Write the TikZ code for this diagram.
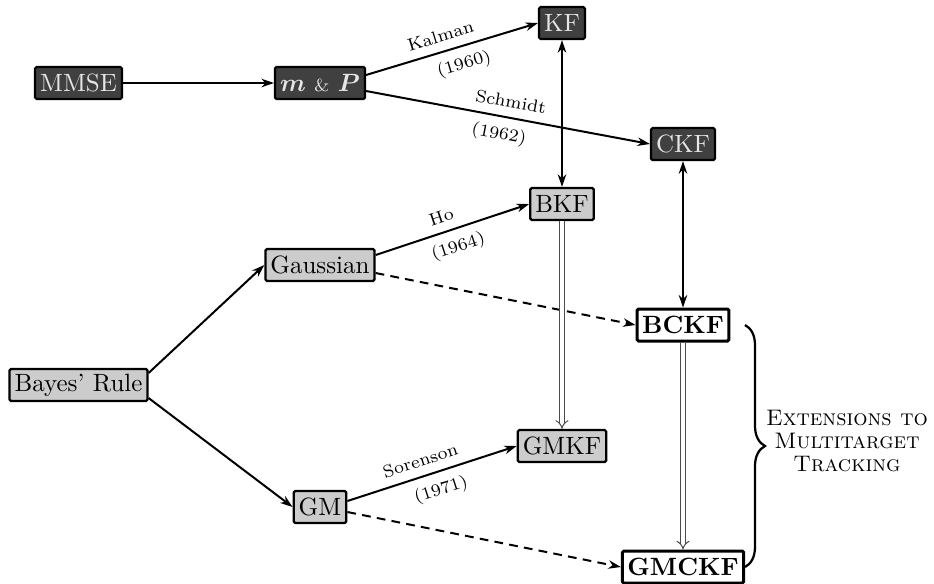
\documentclass[tikz,border=0pt]{standalone}
\usepackage{bm}
\usetikzlibrary{arrows.meta,decorations.pathreplacing}
\definecolor{darkbox}{HTML}{404040}
\definecolor{lightbox}{HTML}{CCCCCC}
\definecolor{boxtext}{HTML}{E6E6E6}
\begin{document}
\begin{tikzpicture}[x=0.4pt,y=-0.4pt,
  base/.style={draw=black, rectangle, rounded corners=0.6pt, minimum height=12.8pt, inner xsep=2pt, inner ysep=1.5pt, line width=0.9pt},
  darknode/.style={base, fill=darkbox, text=boxtext},
  lightnode/.style={base, fill=lightbox},
  whitenode/.style={base, fill=white, line width=1.2pt, font=\bfseries},
  arr/.style={line width=0.8pt, -{Stealth[length=5pt,width=3.4pt,inset=1.6pt]}},
  darr/.style={line width=0.8pt, {Stealth[length=5pt,width=3.4pt,inset=1.6pt]}-{Stealth[length=5pt,width=3.4pt,inset=1.6pt]}},
  dasharr/.style={arr, dash pattern=on 3.5pt off 2.5pt},
  dblarr/.style={draw=black!70, line width=0.4pt, double=white, double distance=1.4pt, -{Implies}},
  lab/.style={font=\scriptsize, sloped, inner sep=3.5pt}]
\useasboundingbox (0,0) rectangle (934,583);

\node[darknode] (mmse) at (78.5,83) {MMSE};
\node[darknode] (mp) at (320,83) {$\bm{m}$ {\scriptsize\&} $\bm{P}$};
\node[darknode] (kf) at (562,23) {KF};
\node[darknode] (ckf) at (683,144) {CKF};
\node[lightnode] (bkf) at (562,204) {BKF};
\node[lightnode] (gauss) at (320,265) {Gaussian};
\node[lightnode] (bayes) at (78.5,385) {Bayes' Rule};
\node[lightnode] (gm) at (320,507) {GM};
\node[lightnode] (gmkf) at (562,446) {GMKF};
\node[whitenode] (bckf) at (683,325) {BCKF};
\node[whitenode] (gmckf) at (683,567) {GMCKF};

\draw[arr] (mmse) -- (mp);
\draw[arr] ([yshift=3.2pt]mp.east) -- (kf.west)
  node[lab, above, pos=0.46] {Kalman} node[lab, below, pos=0.54] {(1960)};
\draw[arr] ([yshift=-3.2pt]mp.east) -- (ckf.west)
  node[lab, above, pos=0.5] {Schmidt} node[lab, below, pos=0.48] {(1962)};
\draw[darr] (kf) -- (bkf);
\draw[darr] (ckf) -- (bckf);
\draw[arr] ([yshift=4.8pt]bayes.east) -- (gauss.west);
\draw[arr] ([yshift=-5.2pt]bayes.east) -- (gm.west);
\draw[arr] ([yshift=4pt]gauss.east) -- (bkf.west)
  node[lab, above, pos=0.46] {Ho} node[lab, below, pos=0.5] {(1964)};
\draw[arr] ([yshift=2.4pt]gm.east) -- (gmkf.west)
  node[lab, above, pos=0.46] {Sorenson} node[lab, below, pos=0.52] {(1971)};
\draw[dasharr] ([yshift=-3.2pt]gauss.east) -- (bckf.west);
\draw[dasharr] ([yshift=-2pt]gm.east) -- (gmckf.west);
\draw[dblarr] (bkf) -- (gmkf);
\draw[dblarr] (bckf) -- (gmckf);

\coordinate (bt) at (745,325);
\coordinate (bb) at (745,567);
\draw[line width=0.9pt, decorate, decoration={brace, amplitude=8pt}] (bt) -- (bb);
\node[align=center, font={\fontsize{9}{9.2}\selectfont\scshape}] (ext) at (847,441) {Extensions to\\Multitarget\\Tracking};
\end{tikzpicture}
\end{document}
